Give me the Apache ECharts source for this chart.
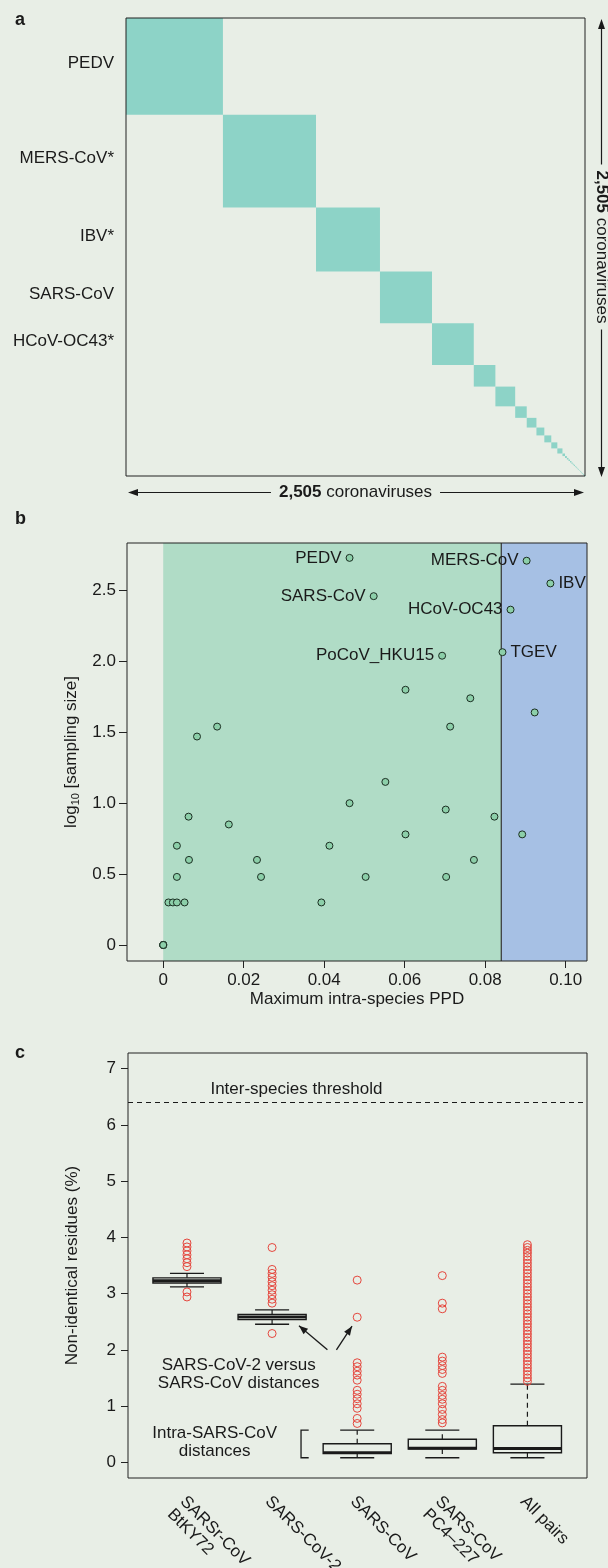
<!DOCTYPE html>
<html>
<head>
<meta charset="utf-8">
<script src="https://cdn.jsdelivr.net/npm/echarts@6/dist/echarts.min.js"></script>
<style>
html,body{margin:0;padding:0;background:#e8eee6;}
#c{width:608px;height:1568px;}
</style>
</head>
<body>
<div id="c"></div>
<script>
// ---------- Panel a: species clusters along the diagonal ----------
const totalViruses = 2505;
const clusterSizes = [529, 508, 349, 284, 228, 118, 108, 63, 53, 43, 38, 33, 28,
  14, 10, 9, 8, 8, 7, 6, 6, 5, 5, 4, 4, 4, 3, 3, 3, 3, 2, 2, 2, 2, 2, 2,
  1, 1, 1, 1, 1, 1, 1, 1, 1];
const clusterLabels = ['PEDV', 'MERS-CoV*', 'IBV*', 'SARS-CoV', 'HCoV-OC43*'];

// ---------- Panel b: max intra-species PPD vs log10 sampling size ----------
const namedSpecies = ['PEDV', 'MERS-CoV', 'IBV', 'SARS-CoV', 'HCoV-OC43', 'TGEV', 'PoCoV_HKU15'];
const namedPPD = [0.0463, 0.0903, 0.0962, 0.0523, 0.0863, 0.0843, 0.0693];
const namedLogN = [2.73, 2.71, 2.55, 2.46, 2.365, 2.065, 2.04];
const otherPPD = [0.0602, 0.0763, 0.0923, 0.0713, 0.0134, 0.0084, 0.0552, 0.0463, 0.0702, 0.0823,
  0.0063, 0.0163, 0.0602, 0.0892, 0.0034, 0.0413, 0.0064, 0.0233, 0.0772, 0.0034,
  0.0243, 0.0503, 0.0703, 0.0013, 0.0024, 0.0034, 0.0053, 0.0393, 0, 0, 0, 0, 0];
const otherLogN = [1.80, 1.74, 1.64, 1.54, 1.54, 1.47, 1.15, 1.00, 0.955, 0.905,
  0.905, 0.85, 0.78, 0.78, 0.70, 0.70, 0.60, 0.60, 0.60, 0.48,
  0.48, 0.48, 0.48, 0.30, 0.30, 0.30, 0.30, 0.30, 0, 0, 0, 0, 0];
const ppdThreshold = 0.084;
const bXTicks = [0, 0.02, 0.04, 0.06, 0.08, 0.10];
const bYTicks = [0, 0.5, 1.0, 1.5, 2.0, 2.5];

// ---------- Panel c: box plots of non-identical residues ----------
const boxCategories = ['SARSr-CoV\nBtKY72', 'SARS-CoV-2', 'SARS-CoV', 'SARS-CoV\nPC4\u2013227', 'All pairs'];
// [lower whisker, Q1, median, Q3, upper whisker]
const boxStats = [
  [3.12, 3.19, 3.23, 3.28, 3.36],
  [2.455, 2.54, 2.585, 2.63, 2.71],
  [0.08, 0.155, 0.17, 0.33, 0.57],
  [0.08, 0.235, 0.25, 0.41, 0.57],
  [0.08, 0.17, 0.245, 0.65, 1.39]
];
const outliersBtKY72 = [3.90, 3.83, 3.76, 3.69, 3.62, 3.55, 3.48, 3.03, 2.94];
const outliersCoV2 = [3.82, 3.43, 3.36, 3.29, 3.21, 3.14, 3.06, 2.98, 2.90, 2.83, 2.29];
const outliersSARS = [3.24, 2.58, 1.77, 1.70, 1.62, 1.55, 1.46, 1.28, 1.21, 1.13, 1.04, 0.96, 0.78, 0.69];
const outliersPC4 = [3.32, 2.83, 2.73, 1.87, 1.80, 1.72, 1.65, 1.58, 1.35, 1.28, 1.19, 1.12, 1.04, 0.94, 0.85, 0.76, 0.70];
const outliersAll = [3.87, 3.82, 3.77, 3.72, 3.66, 3.60, 3.54, 3.48, 3.42, 3.36, 3.30, 3.24, 3.18, 3.12,
  3.06, 3.00, 2.94, 2.88, 2.82, 2.76, 2.70, 2.64, 2.58, 2.52, 2.46, 2.40, 2.34, 2.28, 2.22, 2.16,
  2.10, 2.04, 1.98, 1.92, 1.86, 1.80, 1.74, 1.68, 1.62, 1.56, 1.50, 1.44];
const interSpeciesThreshold = 6.4;
const cYTicks = [0, 1, 2, 3, 4, 5, 6, 7];

// ---------- build ----------
const FONT = 'Liberation Sans, Arial, Helvetica, sans-serif';
const INK = '#1a1a1a';
const BG = '#e8eee6';
const LABEL_SHIFT = 0.05; // rotated category labels start slightly left of box centre

const clusterRanges = [];
let acc = 0;
clusterSizes.forEach(s => { clusterRanges.push([acc, acc + s]); acc += s; });

const namedSide = { 'IBV': 'right', 'TGEV': 'right' };
const namedData = namedSpecies.map((n, i) => ({
  name: n, value: [namedPPD[i], namedLogN[i]],
  label: { position: namedSide[n] || 'left' }
}));
const otherData = otherPPD.map((x, i) => [x, otherLogN[i]]);

const outlierGroups = [outliersBtKY72, outliersCoV2, outliersSARS, outliersPC4, outliersAll];
const outlierData = [];
outlierGroups.forEach((g, i) => g.forEach(v => outlierData.push([i + 1, v])));

const bXMin = -0.009, bXMax = 0.1053;
const bYMin = -0.113, bYMax = 2.835;

function arrowHead(tx, ty, fx, fy, len, half) {
  const dx = tx - fx, dy = ty - fy, L = Math.hypot(dx, dy);
  const ux = dx / L, uy = dy / L;
  const bx = tx - ux * len, by = ty - uy * len;
  return [[tx, ty], [bx - uy * half, by + ux * half], [bx + uy * half, by - ux * half]];
}

const gridCommon = { show: true, z: 10, outerBoundsMode: 'none', containLabel: false,
  backgroundColor: 'rgba(0,0,0,0)', borderColor: '#222', borderWidth: 1 };

const option = {
  animation: false,
  backgroundColor: BG,
  textStyle: { fontFamily: FONT, color: INK },
  grid: [
    Object.assign({ left: 126, top: 18, width: 459, height: 458 }, gridCommon),
    Object.assign({ left: 127, top: 543, width: 460, height: 418 }, gridCommon),
    Object.assign({ left: 128, top: 1053, width: 459, height: 425 }, gridCommon)
  ],
  xAxis: [
    { gridIndex: 0, type: 'value', min: 0, max: totalViruses, show: false },
    { gridIndex: 1, type: 'value', min: bXMin, max: bXMax,
      name: 'Maximum intra-species PPD', nameLocation: 'middle', nameGap: 30,
      nameTextStyle: { fontSize: 17, color: INK, fontFamily: FONT },
      axisLine: { show: false, onZero: false },
      axisTick: { show: true, length: 7, customValues: bXTicks, lineStyle: { color: '#222' } },
      axisLabel: { customValues: bXTicks, margin: 11, fontSize: 17, color: INK, fontFamily: FONT,
        formatter: v => (v === 0 ? '0' : v.toFixed(2)) },
      splitLine: { show: false } },
    { gridIndex: 2, type: 'value', min: 0.307, max: 5.70,
      axisLine: { show: false, onZero: false }, axisTick: { show: false },
      axisLabel: { customValues: boxCategories.map((c, i) => i + 1 - LABEL_SHIFT), rotate: -45, margin: 21, fontSize: 17,
        showMinLabel: true, showMaxLabel: true, hideOverlap: false,
        color: INK, fontFamily: FONT, lineHeight: 18,
        formatter: v => { const s = boxCategories[Math.round(v + LABEL_SHIFT) - 1]; return s.indexOf('\n') >= 0 ? '\u00a0\n' + s : s; } },
      splitLine: { show: false } }
  ],
  yAxis: [
    { gridIndex: 0, type: 'value', min: 0, max: totalViruses, inverse: true, show: false },
    { gridIndex: 1, type: 'value', min: bYMin, max: bYMax,
      name: '{a|log}{s|10}{a| [sampling size]}', nameLocation: 'middle', nameGap: 45,
      nameTextStyle: { color: INK, fontFamily: FONT,
        rich: { a: { fontSize: 17, color: INK, fontFamily: FONT },
                s: { fontSize: 11, color: INK, fontFamily: FONT, padding: [9, 0, 0, 0] } } },
      axisLine: { show: false, onZero: false },
      axisTick: { show: true, length: 8, customValues: bYTicks, lineStyle: { color: '#222' } },
      axisLabel: { customValues: bYTicks, margin: 11, fontSize: 17, color: INK, fontFamily: FONT,
        formatter: v => (v === 0 ? '0' : v.toFixed(1)) },
      splitLine: { show: false } },
    { gridIndex: 2, type: 'value', min: -0.28, max: 7.28,
      name: 'Non-identical residues (%)', nameLocation: 'middle', nameGap: 47,
      nameTextStyle: { fontSize: 17, color: INK, fontFamily: FONT },
      axisLine: { show: false, onZero: false },
      axisTick: { show: true, length: 7, customValues: cYTicks, lineStyle: { color: '#222' } },
      axisLabel: { customValues: cYTicks, margin: 12, fontSize: 17, color: INK, fontFamily: FONT },
      splitLine: { show: false } }
  ],
  series: [
    // panel a
    { type: 'custom', xAxisIndex: 0, yAxisIndex: 0, z: 2,
      data: clusterRanges,
      renderItem: (params, api) => {
        const s = api.value(0), e = api.value(1);
        const p0 = api.coord([s, s]), p1 = api.coord([e, e]);
        const children = [{ type: 'rect',
          shape: { x: p0[0], y: p0[1], width: Math.max(p1[0] - p0[0], 0.6), height: Math.max(p1[1] - p0[1], 0.6) },
          style: { fill: '#8dd3c7' } }];
        if (params.dataIndex < clusterLabels.length) {
          const m = api.coord([0, (s + e) / 2]);
          children.push({ type: 'text', x: m[0] - 12, y: m[1] - 3,
            style: { text: clusterLabels[params.dataIndex], align: 'right', verticalAlign: 'middle',
              fontSize: 17, fontFamily: FONT, fill: INK } });
        }
        return { type: 'group', children };
      } },
    // panel b regions
    { type: 'custom', xAxisIndex: 1, yAxisIndex: 1, z: 1,
      data: [[0, ppdThreshold], [ppdThreshold, bXMax]],
      renderItem: (params, api) => {
        const x0 = api.value(0), x1 = api.value(1);
        const a = api.coord([x0, bYMax]), b = api.coord([x1, bYMin]);
        const children = [{ type: 'rect', shape: { x: a[0], y: a[1], width: b[0] - a[0], height: b[1] - a[1] },
          style: { fill: params.dataIndex === 0 ? '#b0dcc6' : '#a6c0e4' } }];
        if (params.dataIndex === 1) {
          children.push({ type: 'line', shape: { x1: a[0], y1: a[1], x2: a[0], y2: b[1] },
            style: { stroke: '#333', lineWidth: 1.2 } });
        }
        return { type: 'group', children };
      } },
    { type: 'scatter', xAxisIndex: 1, yAxisIndex: 1, z: 3, data: otherData,
      symbol: 'circle', symbolSize: 7,
      itemStyle: { color: '#8ccfa9', borderColor: '#1b2e22', borderWidth: 1, opacity: 1 } },
    { type: 'scatter', xAxisIndex: 1, yAxisIndex: 1, z: 4, data: namedData,
      symbol: 'circle', symbolSize: 7,
      itemStyle: { color: '#8ccfa9', borderColor: '#1b2e22', borderWidth: 1, opacity: 1 },
      label: { show: true, formatter: '{b}', distance: 4, fontSize: 17, color: INK, fontFamily: FONT } },
    // panel c boxes
    { type: 'custom', xAxisIndex: 2, yAxisIndex: 2, z: 3,
      data: boxStats.map((s, i) => [i + 1].concat(s)),
      encode: { x: 0, y: [1, 2, 3, 4, 5] },
      renderItem: (params, api) => {
        const x = api.value(0), lw = api.value(1), q1 = api.value(2), md = api.value(3), q3 = api.value(4), uw = api.value(5);
        const tl = api.coord([x - 0.4, q3]), br = api.coord([x + 0.4, q1]);
        const cx = api.coord([x, 0])[0];
        const yMd = api.coord([x, md])[1], yLw = api.coord([x, lw])[1], yUw = api.coord([x, uw])[1];
        const cl = api.coord([x - 0.2, 0])[0], cr = api.coord([x + 0.2, 0])[0];
        const solid = { stroke: INK, lineWidth: 1.3 };
        const dash = { stroke: INK, lineWidth: 1.2, lineDash: [5, 4] };
        return { type: 'group', children: [
          { type: 'line', shape: { x1: cx, y1: tl[1], x2: cx, y2: yUw }, style: dash },
          { type: 'line', shape: { x1: cx, y1: br[1], x2: cx, y2: yLw }, style: dash },
          { type: 'line', shape: { x1: cl, y1: yUw, x2: cr, y2: yUw }, style: solid },
          { type: 'line', shape: { x1: cl, y1: yLw, x2: cr, y2: yLw }, style: solid },
          { type: 'rect', shape: { x: tl[0], y: tl[1], width: br[0] - tl[0], height: br[1] - tl[1] },
            style: { fill: 'rgba(0,0,0,0)', stroke: INK, lineWidth: 1.4 } },
          { type: 'line', shape: { x1: tl[0], y1: yMd, x2: br[0], y2: yMd }, style: { stroke: INK, lineWidth: 2.8 } }
        ] };
      } },
    { type: 'scatter', xAxisIndex: 2, yAxisIndex: 2, z: 4, data: outlierData,
      symbol: 'circle', symbolSize: 8,
      itemStyle: { color: 'rgba(0,0,0,0)', borderColor: '#e5463d', borderWidth: 1, opacity: 1 },
      markLine: { silent: true, symbol: 'none', label: { show: false },
        lineStyle: { color: INK, width: 1, type: [5, 4] },
        data: [{ yAxis: interSpeciesThreshold }] } },
    // panel c annotations
    { type: 'custom', xAxisIndex: 2, yAxisIndex: 2, z: 5,
      data: [[1, 1]],
      renderItem: (params, api) => {
        const T = (at, text) => { const p = api.coord(at); return { type: 'text', x: p[0], y: p[1],
          style: { text, align: 'center', verticalAlign: 'middle', fontSize: 17, lineHeight: 18, fontFamily: FONT, fill: INK } }; };
        const children = [
          T([2.286, 6.63], 'Inter-species threshold'),
          T([1.607, 1.57], 'SARS-CoV-2 versus\nSARS-CoV distances'),
          T([1.325, 0.36], 'Intra-SARS-CoV\ndistances')
        ];
        [[[2.65, 2.0], [2.316, 2.43]], [[2.756, 2.0], [2.939, 2.42]]].forEach(ar => {
          const f = api.coord(ar[0]), t = api.coord(ar[1]);
          children.push({ type: 'line', shape: { x1: f[0], y1: f[1], x2: t[0], y2: t[1] }, style: { stroke: INK, lineWidth: 1.3 } });
          children.push({ type: 'polygon', shape: { points: arrowHead(t[0], t[1], f[0], f[1], 9, 3.5) }, style: { fill: INK } });
        });
        const b0 = api.coord([2.34, 0.57]), b1 = api.coord([2.43, 0.08]);
        children.push({ type: 'polyline', shape: { points: [[b1[0], b0[1]], [b0[0], b0[1]], [b0[0], b1[1]], [b1[0], b1[1]]] },
          style: { stroke: INK, lineWidth: 1.3, fill: null } });
        return { type: 'group', children };
      } }
  ],
  graphic: [
    { type: 'text', x: 15, y: 20, style: { text: 'a', fontSize: 18, fontWeight: 'bold', fontFamily: FONT, fill: INK, verticalAlign: 'middle' } },
    { type: 'text', x: 15, y: 519, style: { text: 'b', fontSize: 18, fontWeight: 'bold', fontFamily: FONT, fill: INK, verticalAlign: 'middle' } },
    { type: 'text', x: 15, y: 1053, style: { text: 'c', fontSize: 18, fontWeight: 'bold', fontFamily: FONT, fill: INK, verticalAlign: 'middle' } },
    // bottom arrow panel a
    { type: 'line', shape: { x1: 130, y1: 492.5, x2: 582, y2: 492.5 }, style: { stroke: INK, lineWidth: 1.2 } },
    { type: 'polygon', shape: { points: arrowHead(128, 492.5, 140, 492.5, 10, 3.5) }, style: { fill: INK } },
    { type: 'polygon', shape: { points: arrowHead(584, 492.5, 570, 492.5, 10, 3.5) }, style: { fill: INK } },
    { type: 'text', x: 355.5, y: 492.5, z: 10, style: { text: '{b|2,505} coronaviruses', align: 'center', verticalAlign: 'middle',
      fontSize: 17, fontFamily: FONT, fill: INK, backgroundColor: BG, padding: [0, 8],
      rich: { b: { fontWeight: 'bold', fontSize: 17, fontFamily: FONT, fill: INK } } } },
    // right arrow panel a
    { type: 'line', shape: { x1: 601.5, y1: 22, x2: 601.5, y2: 474 }, style: { stroke: INK, lineWidth: 1.2 } },
    { type: 'polygon', shape: { points: arrowHead(601.5, 19, 601.5, 40, 10, 3.5) }, style: { fill: INK } },
    { type: 'polygon', shape: { points: arrowHead(601.5, 477, 601.5, 460, 10, 3.5) }, style: { fill: INK } },
    { type: 'text', x: 601.5, y: 247, rotation: -Math.PI / 2, z: 10, style: { text: '{b|2,505} coronaviruses', align: 'center', verticalAlign: 'middle',
      fontSize: 17, fontFamily: FONT, fill: INK, backgroundColor: BG, padding: [0, 6],
      rich: { b: { fontWeight: 'bold', fontSize: 17, fontFamily: FONT, fill: INK } } } }
  ]
};

const chart = echarts.init(document.getElementById('c'), null, { renderer: 'canvas', width: 608, height: 1568 });
chart.setOption(option);
</script>
</body>
</html>
